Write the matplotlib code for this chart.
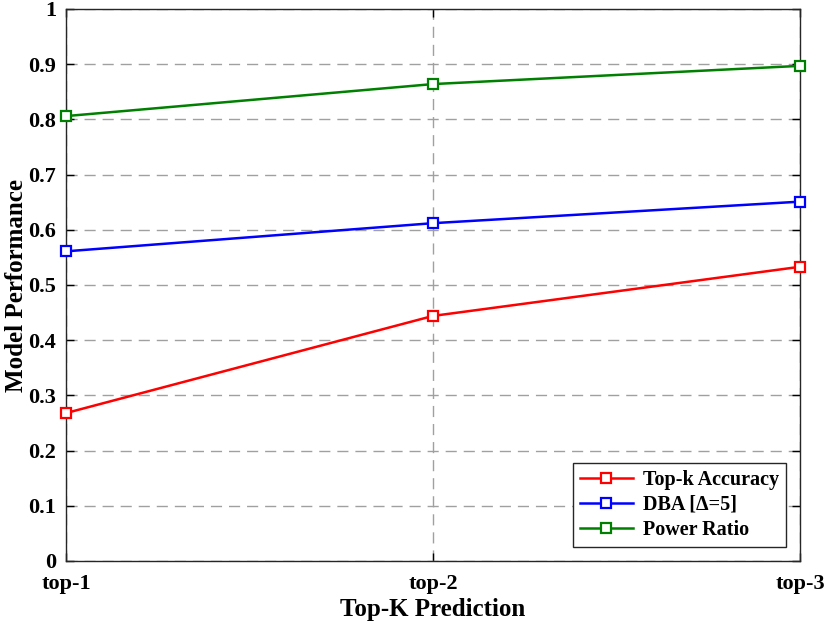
import matplotlib
matplotlib.use('Agg')
import matplotlib.pyplot as plt
import numpy as np

# data
categories = ['top-1', 'top-2', 'top-3']
topk_acc = [0.268, 0.444, 0.533]
dba = [0.561, 0.612, 0.651]
power_ratio = [0.806, 0.864, 0.897]

plt.rcParams['font.family'] = ['Liberation Serif', 'DejaVu Serif']
plt.rcParams['font.weight'] = 'bold'

fig = plt.figure(figsize=(8.3, 6.26), dpi=100)
ax = fig.add_axes([66 / 830, 1 - 561 / 626, (800 - 66) / 830, (561 - 9) / 626])

x = np.arange(len(categories))
mk = dict(marker='s', markersize=7, markerfacecolor='white', markeredgewidth=1.6,
          linewidth=1.8, clip_on=False, zorder=3)
ax.plot(x, topk_acc, color='#ff0000', markeredgecolor='#ff0000', label='Top-k Accuracy', **mk)
ax.plot(x, dba, color='#0000ff', markeredgecolor='#0000ff', label='DBA [\u0394=5]', **mk)
ax.plot(x, power_ratio, color='#008000', markeredgecolor='#008000', label='Power Ratio', **mk)

ax.set_xlim(0, 2)
ax.set_ylim(0, 1)
ax.set_xticks(x)
ax.set_xticklabels(categories)
ax.set_yticks(np.arange(0, 1.01, 0.1))
ax.set_yticklabels(['0', '0.1', '0.2', '0.3', '0.4', '0.5', '0.6', '0.7', '0.8', '0.9', '1'])
ax.tick_params(direction='in', top=True, right=True, length=6, width=1, labelsize=16)
ax.tick_params(axis='x', pad=9)
ax.tick_params(axis='y', pad=7)
ax.grid(True, linestyle=(0, (8, 5)), color='#a0a0a0', linewidth=1)
for s in ax.spines.values():
    s.set_linewidth(1)
    s.set_color('#262626')

ax.set_xlabel('Top-K Prediction', fontsize=18, fontweight='bold', labelpad=3)
ax.set_ylabel('Model Performance', fontsize=18, fontweight='bold', va='center')
ax.yaxis.set_label_coords(-0.068, 0.5)

leg = ax.legend(loc='lower right', fontsize=14.5, fancybox=False, framealpha=1,
                edgecolor='#262626', borderaxespad=0.7, handlelength=2.6,
                labelspacing=0.25, borderpad=0.35, handletextpad=0.5)
leg.get_frame().set_linewidth(1)

fig.savefig('out.png', dpi=100)
